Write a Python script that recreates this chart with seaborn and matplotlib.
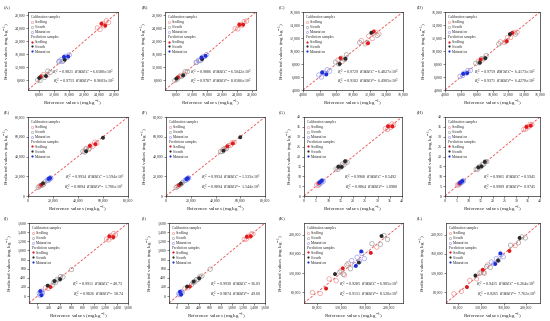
import numpy as np
import pandas as pd
import seaborn as sns
import matplotlib
matplotlib.use("Agg")
import matplotlib.pyplot as plt
from matplotlib.lines import Line2D
from matplotlib.ticker import FuncFormatter

# Sample order shared by all panels
STAGE = (["Seedling"] * 11) + (["Growth"] * 11) + (["Maturation"] * 8)
SPLIT = (["cal"] * 8 + ["val"] * 3) * 2 + ["cal"] * 6 + ["val"] * 2

# (A)/(B)
ab_ref = [23500, 24200, 24800, 25300, 25900, 26500, 9200, 10100, 24600, 25600, 8400,
          7600, 8200, 8700, 9400, 10300, 10900, 13400, 14200, 8000, 9800, 14800,
          13200, 13800, 14400, 15000, 15500, 16000, 14600, 15700]
a_pred = [24100, 23600, 25500, 24700, 26300, 25800, 9800, 9600, 25400, 24800, 9100,
          8100, 7900, 9200, 8900, 10800, 10400, 13900, 13800, 8700, 9300, 14300,
          13700, 14300, 14000, 15400, 15100, 15800, 15200, 15300]
b_pred = [23900, 23800, 25200, 24900, 26100, 26200, 9500, 9900, 25100, 25100, 8900,
          7900, 8300, 9000, 9200, 10600, 10700, 13600, 14000, 8500, 9500, 14500,
          13500, 14100, 14200, 15200, 15300, 15900, 15000, 15500]

# (C)/(D)
cd_ref = [11000, 11500, 11900, 12300, 12700, 13100, 8200, 8700, 11800, 12500, 8500,
          7900, 8300, 8600, 9000, 9200, 10800, 11700, 12900, 8400, 9100, 12200,
          5900, 6200, 6400, 6700, 6900, 7200, 6300, 6800]
c_pred = [11600, 11100, 12300, 11900, 12900, 12600, 8600, 8400, 11200, 13000, 8900,
          8300, 8000, 8900, 8700, 9400, 11300, 11300, 12400, 8000, 8800, 12800,
          6300, 6000, 6700, 6500, 7100, 6900, 6700, 6400]
d_pred = [11400, 11300, 12100, 12100, 12800, 12900, 8400, 8600, 11500, 12800, 8700,
          8100, 8200, 8800, 8900, 9300, 11100, 11500, 12600, 8200, 8900, 12600,
          6100, 6200, 6600, 6600, 7000, 7000, 6500, 6600]

# (E)/(F)
ef_ref = [46000, 48500, 50500, 52000, 53500, 55000, 9000, 11500, 49500, 54000, 10500,
          44000, 45500, 47000, 49000, 8200, 10000, 12500, 13500, 46500, 60000, 12000,
          15500, 16200, 16800, 17300, 17800, 18300, 16500, 17600]
e_pred = [47500, 47000, 51500, 50500, 54500, 53500, 9800, 11000, 50800, 52500, 11300,
          45200, 44500, 48300, 48000, 8800, 10600, 12000, 14200, 45300, 59000, 12800,
          16200, 15800, 17400, 16900, 18400, 17900, 17300, 18200]
f_pred = [47000, 47800, 51000, 51200, 54000, 54200, 9500, 11300, 50300, 53200, 11000,
          44800, 45000, 47900, 48500, 8600, 10400, 12300, 13900, 45900, 59500, 12500,
          16000, 16000, 17200, 17100, 18200, 18100, 17000, 18000]

# (G)/(H)
gh_ref = [33.2, 34.0, 34.6, 35.3, 35.9, 36.6, 5.2, 5.8, 34.3, 36.1, 6.1,
          13.1, 13.8, 14.4, 15.0, 15.7, 16.3, 17.0, 17.6, 14.0, 15.4, 16.8,
          5.9, 6.3, 6.7, 7.0, 7.4, 7.8, 6.5, 7.3]
g_pred = [34.1, 33.6, 35.4, 34.8, 36.5, 35.9, 5.6, 5.4, 35.3, 35.2, 6.6,
          13.7, 13.4, 14.9, 14.6, 16.2, 15.8, 17.4, 17.1, 14.8, 14.7, 17.6,
          6.4, 6.0, 7.1, 6.7, 7.8, 7.4, 7.0, 7.8]
h_pred = [33.8, 33.9, 35.1, 35.0, 36.3, 36.2, 5.5, 5.7, 35.0, 35.6, 6.4,
          13.5, 13.6, 14.7, 14.8, 16.0, 16.1, 17.3, 17.4, 14.5, 15.0, 17.3,
          6.2, 6.2, 6.9, 6.9, 7.6, 7.6, 6.8, 7.6]

# (I)/(J)
ij_ref = [1220, 1260, 1290, 1320, 1350, 1380, 140, 190, 1270, 1340, 230,
          260, 290, 320, 350, 380, 410, 450, 600, 180, 300, 400,
          30, 45, 55, 65, 75, 90, 50, 70]
i_pred = [1250, 1230, 1320, 1280, 1370, 1340, 180, 170, 1310, 1290, 200,
          240, 310, 300, 370, 360, 430, 420, 580, 230, 330, 370,
          60, 20, 90, 40, 110, 70, 110, 20]
j_pred = [1240, 1250, 1310, 1300, 1360, 1360, 165, 185, 1300, 1310, 210,
          250, 300, 310, 360, 370, 420, 440, 590, 210, 320, 390,
          50, 30, 80, 50, 100, 80, 95, 35]

# (K)/(L)
kl_ref = [72000, 85000, 100000, 112000, 120000, 126000, 132000, 180000, 95000, 123000, 170000,
          118000, 124000, 130000, 136000, 186000, 192000, 198000, 172000, 110000, 150000, 188000,
          138000, 143000, 147000, 151000, 155000, 159000, 145000, 154000]
k_pred = [80000, 78000, 108000, 104000, 125000, 116000, 140000, 174000, 88000, 130000, 162000,
          122000, 118000, 137000, 129000, 180000, 198000, 190000, 181000, 118000, 142000, 197000,
          146000, 137000, 153000, 144000, 161000, 150000, 135000, 165000]
l_pred = [77000, 82000, 105000, 108000, 122000, 120000, 137000, 177000, 91000, 127000, 166000,
          120000, 121000, 134000, 132000, 183000, 195000, 193000, 178000, 115000, 146000, 193000,
          143000, 140000, 150000, 147000, 158000, 154000, 139000, 161000]

PANEL_LETTERS = ["A", "B", "C", "D", "E", "F", "G", "H", "I", "J", "K", "L"]
R2C = ["0.9821", "0.9886", "0.9729", "0.9759", "0.9934", "0.9934",
       "0.9968", "0.9965", "0.9911", "0.9930", "0.9285", "0.9415"]
R2P = ["0.9753", "0.9787", "0.9102", "0.9371", "0.9894", "0.9894",
       "0.9864", "0.9909", "0.9826", "0.9874", "0.9151", "0.9265"]
RMSEC = [r"6.6580$\times$10$^2$", r"6.5042$\times$10$^2$", r"6.4827$\times$10$^2$",
         r"6.4173$\times$10$^2$", r"1.594$\times$10$^3$", r"1.533$\times$10$^3$",
         "0.5492", "0.5945", "40.73", "36.03",
         r"6.905$\times$10$^3$", r"6.264$\times$10$^3$"]
RMSEP = [r"8.9603$\times$10$^2$", r"8.0186$\times$10$^2$", r"6.4905$\times$10$^2$",
         r"6.4270$\times$10$^2$", r"1.706$\times$10$^3$", r"1.544$\times$10$^3$",
         "1.0980", "0.9745", "58.74", "49.60",
         r"8.520$\times$10$^3$", r"7.762$\times$10$^3$"]

# limits / tick steps per pair
LIMS = [(5000, 29000), (4000, 16000), (0, 80000), (0, 40), (-150, 1600), (58000, 224000)]
XTICK_START = [8000, 4000, 0, 0, 0, 80000]
TICK_STEP = [4000, 2000, 20000, 5, 200, 40000]

CAL_COLORS = {"Seedling": "#f08a8a", "Growth": "#9a9a9a", "Maturation": "#8f98ee"}
VAL_COLORS = {"Seedling": "#e0191c", "Growth": "#2a2a2a", "Maturation": "#1d2fd8"}

# axes boxes in pixels: left, right, top, bottom
COLS = [[(28, 118), (165, 256), (303, 403), (445, 540)],
        [(28, 128), (166, 265), (304, 402), (445, 540)],
        [(29, 128), (169, 265), (304, 403), (446, 540)]]
ROWS = [(12, 90), (117, 196), (223, 303)]
W, H = 550, 321

sns.set_theme(style="ticks")
plt.rcParams["font.family"] = ["Liberation Serif", "DejaVu Serif"]
plt.rcParams["mathtext.fontset"] = "stix"

fig = plt.figure(figsize=(W / 100, H / 100), dpi=100)

pairs = [(ab_ref, a_pred, b_pred), (cd_ref, c_pred, d_pred), (ef_ref, e_pred, f_pred),
         (gh_ref, g_pred, h_pred), (ij_ref, i_pred, j_pred), (kl_ref, k_pred, l_pred)]


def fmt_thousands(v, pos):
    if abs(v - round(v)) < 1e-9:
        return f"{int(round(v)):,}"
    return f"{v:g}"


for idx in range(12):
    row, col = idx // 4, idx % 4
    pair = idx // 2
    ref = pairs[pair][0]
    pred = pairs[pair][1 + idx % 2]
    l, r = COLS[row][col]
    t, b = ROWS[row]
    ax = fig.add_axes([l / W, 1 - b / H, (r - l) / W, (b - t) / H])

    df = pd.DataFrame({"ref": ref, "pred": pred, "stage": STAGE, "split": SPLIT})
    lo, hi = LIMS[pair]
    ax.axline((0, 0), slope=1, color="#e84a4a", lw=0.6, ls=(0, (3, 2)), zorder=1)

    for stage in ["Seedling", "Growth", "Maturation"]:
        cal = df[(df.stage == stage) & (df.split == "cal")]
        val = df[(df.stage == stage) & (df.split == "val")]
        sns.scatterplot(data=cal, x="ref", y="pred", ax=ax, marker="o", s=10,
                        facecolors="none", edgecolor=CAL_COLORS[stage],
                        linewidth=0.45, legend=False, zorder=2)
        sns.scatterplot(data=val, x="ref", y="pred", ax=ax, marker="o", s=8,
                        color=VAL_COLORS[stage], edgecolor="none",
                        legend=False, zorder=3)

    ax.set_xlim(lo, hi)
    ax.set_ylim(lo, hi)
    ticks = np.arange(XTICK_START[pair], hi + 1e-9, TICK_STEP[pair])
    ax.set_xticks(ticks)
    ax.set_yticks(ticks)
    ax.xaxis.set_major_formatter(FuncFormatter(fmt_thousands))
    ax.yaxis.set_major_formatter(FuncFormatter(fmt_thousands))
    ax.tick_params(labelsize=2.8, length=1.3, width=0.4, pad=0.8)
    for sp in ax.spines.values():
        sp.set_linewidth(0.5)
        sp.set_visible(True)
    ax.set_xlabel("Reference values (mg kg$^{-1}$)", fontsize=3.7, labelpad=1)
    ax.set_ylabel("Predicted values (mg kg$^{-1}$)", fontsize=3.7, labelpad=1)

    handles = [Line2D([], [], ls="none", marker="", label="Calibration samples")]
    for stage in ["Seedling", "Growth", "Maturation"]:
        handles.append(Line2D([], [], ls="none", marker="o", markersize=1.6,
                              mfc="none", mec=CAL_COLORS[stage], mew=0.4, label=stage))
    handles.append(Line2D([], [], ls="none", marker="", label="Prediction samples"))
    for stage in ["Seedling", "Growth", "Maturation"]:
        handles.append(Line2D([], [], ls="none", marker="o", markersize=1.6,
                              mfc=VAL_COLORS[stage], mec="none", label=stage))
    leg = ax.legend(handles=handles, loc="upper left", fontsize=2.6, frameon=False,
                    handlelength=0.6, handletextpad=0.5, labelspacing=0.25,
                    borderaxespad=0.5)
    for txt, hnd in zip(leg.get_texts(), handles):
        if hnd.get_marker() in ("", "None", None):
            txt.set_x(-4)

    ax.text(0.96, 0.16, rf"$R_c^{{\,2}}$ = {R2C[idx]}  $RMSEC$ = {RMSEC[idx]}",
            transform=ax.transAxes, ha="right", va="bottom", fontsize=3)
    ax.text(0.96, 0.05, rf"$R_p^{{\,2}}$ = {R2P[idx]}  $RMSEP$ = {RMSEP[idx]}",
            transform=ax.transAxes, ha="right", va="bottom", fontsize=3)

    cell_left = col * 137.5
    fig.text((cell_left + 4) / W, 1 - (t - 5) / H, f"({PANEL_LETTERS[idx]})",
             fontsize=3.5, ha="left", va="center")

fig.savefig("out.png", dpi=100)
